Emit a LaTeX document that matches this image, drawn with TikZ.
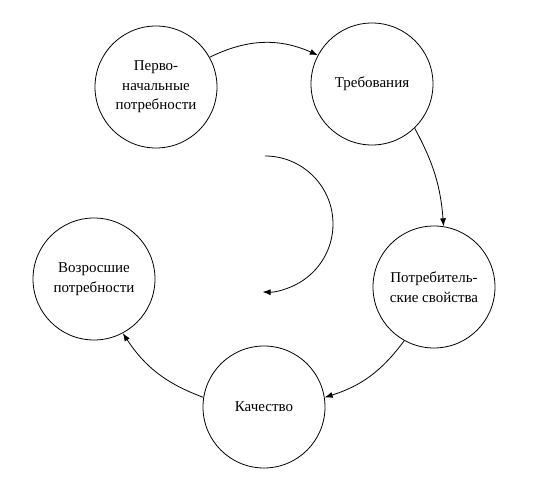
\documentclass[tikz,border=0pt]{standalone}
\usepackage{fontspec}
\setmainfont{Liberation Serif}
\newfontfamily\stagefont{Liberation Serif}
\usepackage{tikz}
\usetikzlibrary{positioning}
\usetikzlibrary{arrows.meta}

\begin{document}
\begin{tikzpicture}[x=1pt,y=1pt,line width=.8pt,
  stage/.style={draw,circle,minimum size=122pt,inner sep=0pt,align=center,
    font=\stagefont\fontsize{15}{19.5}\selectfont},
  flow/.style={-{Latex[length=8pt,width=6pt]},bend left=#1}]
\useasboundingbox (0,0) rectangle (560,503);
\node[stage] (perv) at (156,416) {Перво-\\начальные\\потребности};
\node[stage] (treb) at (372,419) {Требования};
\node[stage] (svoj) at (434,216) {Потребитель-\\ские свойства};
\node[stage] (kach) at (264,96) {Качество};
\node[stage] (vozr) at (94,224) {Возросшие\\потребности};
\draw[flow=25] (perv.29) to (treb.152);
\draw[flow=12] (treb.-46) to (svoj.81);
\draw[flow=18] (svoj.-119) to (kach.9);
\draw[flow=18] (kach.171) to (vozr.-62);
% inner turn
\coordinate (turn) at (265,347);
\draw[-{Latex[length=8pt,width=6pt]}] (turn) arc[start angle=90,end angle=-92,radius=68];
\end{tikzpicture}
\end{document}
